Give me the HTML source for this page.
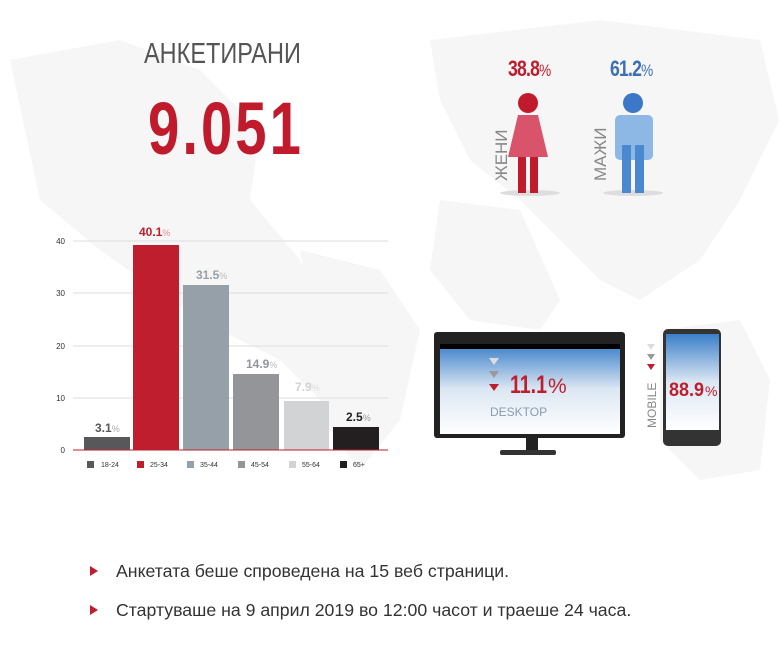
<!DOCTYPE html>
<html><head><meta charset="utf-8"><style>
body{margin:0;width:779px;height:655px;background:#fff;position:relative;overflow:hidden;font-family:"Liberation Sans","DejaVu Sans",sans-serif}
.a{position:absolute}
.num{font-family:"Liberation Sans",sans-serif;font-weight:bold;letter-spacing:-1px;transform:scaleX(0.8);transform-origin:left}
</style></head><body>
<svg class="a" style="left:0;top:0" width="779" height="655">
<g fill="#f6f6f6">
<path d="M10 60 L120 40 L200 70 L260 130 L250 200 L300 260 L330 330 L390 380 L330 410 L280 360 L220 330 L170 300 L100 250 L40 200 Z"/>
<path d="M300 250 L380 270 L420 330 L400 420 L360 470 L330 430 L320 360 Z"/>
<path d="M430 40 L600 20 L760 40 L779 120 L740 200 L700 260 L640 300 L600 280 L560 240 L520 200 L470 160 L440 100 Z"/>
<path d="M440 200 L520 210 L560 300 L540 330 L470 320 L430 270 Z"/>
<path d="M660 330 L740 320 L770 380 L760 470 L700 480 L660 440 Z"/>
</g>
</svg>
<div class="a" style="left:144px;top:38px;font-size:29px;color:#555;transform:scaleX(0.81);transform-origin:left">АНКЕТИРАНИ</div>
<div class="a num" style="left:148px;top:86px;font-size:74px;color:#c01b2c;letter-spacing:4px;transform:scaleX(0.76)">9.051</div>

<div class="a num" style="left:508px;top:56px;font-size:22px;color:#c01b2c">38.8<span style="font-weight:normal;font-size:17px">%</span></div>
<div class="a num" style="left:610px;top:56px;font-size:22px;color:#3b6fb6">61.2<span style="font-weight:normal;font-size:17px">%</span></div>
<svg class="a" style="left:480px;top:85px" width="200" height="120">
<ellipse cx="50" cy="108" rx="30" ry="3" fill="#ddd"/><ellipse cx="153" cy="108" rx="30" ry="3" fill="#ddd"/>
<circle cx="48" cy="18" r="10" fill="#c01b2c"/>
<path d="M38 30 L58 30 L68 72 L28 72 Z" fill="#d9536a"/>
<rect x="38" y="72" width="8" height="36" fill="#c01b2c"/><rect x="50" y="72" width="8" height="36" fill="#c01b2c"/>
<circle cx="153" cy="18" r="10" fill="#3b78c8"/>
<rect x="135" y="30" width="38" height="45" rx="5" fill="#8db8e6"/>
<rect x="142" y="60" width="9" height="48" fill="#4a88d0"/><rect x="155" y="60" width="9" height="48" fill="#4a88d0"/>
<text transform="translate(27,96) rotate(-90)" font-size="17" fill="#888" font-family="Liberation Sans">ЖЕНИ</text>
<text transform="translate(126,96) rotate(-90)" font-size="17" fill="#888" font-family="Liberation Sans">МАЖИ</text>
</svg>

<svg class="a" style="left:0;top:0" width="779" height="655" font-family="Liberation Sans">
<g stroke="#ddd" stroke-width="1">
<line x1="73" y1="241" x2="388" y2="241"/><line x1="73" y1="293" x2="388" y2="293"/>
<line x1="73" y1="346" x2="388" y2="346"/><line x1="73" y1="398" x2="388" y2="398"/>
</g>
<g font-size="8" fill="#333" text-anchor="end">
<text x="65" y="244">40</text><text x="65" y="296">30</text><text x="65" y="349">20</text><text x="65" y="401">10</text><text x="65" y="453">0</text>
</g>
<rect x="84" y="437" width="46" height="13" fill="#58585a"/>
<rect x="133" y="245" width="46" height="205" fill="#be1e2d"/>
<rect x="183" y="285" width="46" height="165" fill="#96a0a9"/>
<rect x="233" y="374" width="46" height="76" fill="#939598"/>
<rect x="284" y="401" width="45" height="49" fill="#d1d3d4"/>
<rect x="333" y="427" width="46" height="23" fill="#231f20"/>
<line x1="73" y1="450" x2="388" y2="450" stroke="#be1e2d" stroke-width="1"/>
<g font-weight="bold" font-size="12">
<text x="95" y="432" fill="#58585a">3.1<tspan font-weight="normal" font-size="9" fill="#aaa">%</tspan></text>
<text x="139" y="236" fill="#be1e2d">40.1<tspan font-weight="normal" font-size="9" fill="#e89">%</tspan></text>
<text x="196" y="279" fill="#96a0a9">31.5<tspan font-weight="normal" font-size="9" fill="#bbb">%</tspan></text>
<text x="246" y="368" fill="#939598">14.9<tspan font-weight="normal" font-size="9" fill="#bbb">%</tspan></text>
<text x="295" y="391" fill="#d1d3d4">7.9<tspan font-weight="normal" font-size="9" fill="#ddd">%</tspan></text>
<text x="346" y="421" fill="#231f20">2.5<tspan font-weight="normal" font-size="9" fill="#999">%</tspan></text>
</g>
<g font-size="7" fill="#333">
<rect x="87" y="461" width="7" height="7" fill="#58585a"/><text x="101" y="467">18-24</text>
<rect x="137" y="461" width="7" height="7" fill="#be1e2d"/><text x="150" y="467">25-34</text>
<rect x="187" y="461" width="7" height="7" fill="#96a0a9"/><text x="200" y="467">35-44</text>
<rect x="238" y="461" width="7" height="7" fill="#939598"/><text x="251" y="467">45-54</text>
<rect x="289" y="461" width="7" height="7" fill="#d1d3d4"/><text x="302" y="467">55-64</text>
<rect x="340" y="461" width="7" height="7" fill="#231f20"/><text x="353" y="467">65+</text>
</g>
<defs><linearGradient id="sc" x1="0" y1="0" x2="0" y2="1"><stop offset="0" stop-color="#3a7fc8"/><stop offset="0.5" stop-color="#dce7f3"/><stop offset="1" stop-color="#fff"/></linearGradient></defs>
<rect x="434" y="332" width="191" height="106" rx="3" fill="#222"/>
<rect x="440" y="344" width="180" height="90" fill="url(#sc)"/>
<rect x="440" y="344" width="180" height="5" fill="#000"/>
<rect x="526" y="438" width="12" height="12" fill="#222"/>
<rect x="500" y="450" width="56" height="5" rx="2" fill="#333"/>
<path d="M489 358h10l-5 7z" fill="#ddd"/><path d="M489 371h10l-5 7z" fill="#999"/><path d="M489 384h10l-5 7z" fill="#be1e2d"/>
<text x="510" y="393" font-size="25" font-weight="bold" fill="#be1e2d" textLength="37" lengthAdjust="spacingAndGlyphs">11.1</text>
<text x="548" y="393" font-size="21" fill="#be1e2d">%</text>
<text x="490" y="416" font-size="12" fill="#8a9ab0">DESKTOP</text>
<rect x="663" y="329" width="58" height="117" rx="5" fill="#333"/>
<rect x="666" y="334" width="53" height="96" fill="url(#sc)"/>
<path d="M647 344h8l-4 6z" fill="#ddd"/><path d="M647 354h8l-4 6z" fill="#999"/><path d="M647 364h8l-4 6z" fill="#be1e2d"/>
<text transform="translate(656,428) rotate(-90)" font-size="12" fill="#888">MOBILE</text>
<text x="669" y="396" font-size="19" font-weight="bold" fill="#be1e2d" textLength="35" lengthAdjust="spacingAndGlyphs">88.9</text>
<text x="705" y="396" font-size="14" fill="#be1e2d">%</text>
<path d="M90 566l8 5-8 5z" fill="#be1e2d"/><path d="M90 605l8 5-8 5z" fill="#be1e2d"/>
<text x="116" y="577" font-size="17.7" fill="#333">Анкетата беше спроведена на 15 веб страници.</text>
<text x="116" y="616" font-size="17.7" fill="#333">Стартуваше на 9 април 2019 во 12:00 часот и траеше 24 часа.</text>
</svg>
</body></html>
